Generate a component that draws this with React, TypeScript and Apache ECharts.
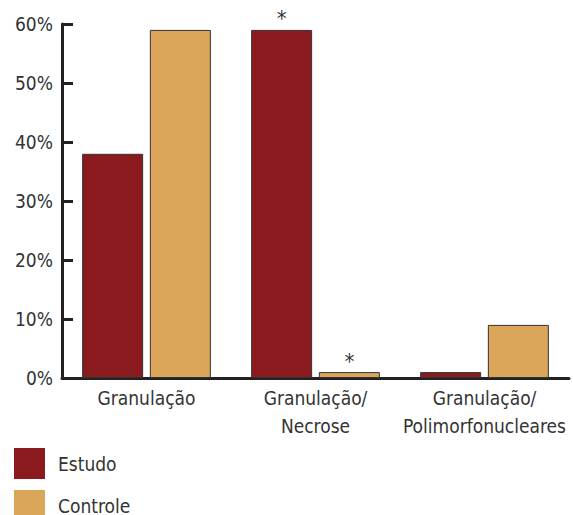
import React, { useEffect, useRef } from "react";
import * as echarts from "echarts";

const categories = ["Granulação", "Granulação/\nNecrose", "Granulação/\nPolimorfonucleares"];
const estudo = [38, 59, 1];
const controle = [59, 1, 9];
const estudoMarks = ["", "*", ""];
const controleMarks = ["", "*", ""];
const yTicks = [0, 10, 20, 30, 40, 50, 60];
const seriesNames = ["Estudo", "Controle"];

const FONT = "'Liberation Sans Narrow', 'DejaVu Sans Condensed', 'Roboto', sans-serif";
const TXT = "#333333";

export default function App() {
  const ref = useRef<HTMLDivElement>(null);
  useEffect(() => {
    document.body.style.margin = "0";
    if (!ref.current) return;
    const chart = echarts.init(ref.current, undefined, { renderer: "svg" });
    const mk = (vals: number[], marks: string[]) =>
      vals.map((v, i) => ({
        value: v,
        label: {
          show: marks[i] !== "",
          position: "top",
          distance: 0,
          formatter: marks[i],
          fontSize: 22,
          color: TXT,
          fontFamily: FONT,
        },
      }));
    const legendBase = {
      orient: "vertical",
      left: 14,
      itemWidth: 31,
      itemHeight: 31,
      icon: "rect",
      padding: 0,
      itemStyle: { borderWidth: 0 },
      textStyle: {
        fontSize: 19,
        lineHeight: 18,
        color: TXT,
        fontFamily: FONT,
        padding: [0, 0, 0, 8],
      },
    };
    chart.setOption({
      animation: false,
      textStyle: { fontFamily: FONT },
      grid: { left: 62, right: 4, top: 24, bottom: 137, containLabel: false },
      legend: [
        { ...legendBase, top: 448, data: [seriesNames[0]] },
        { ...legendBase, top: 490, data: [seriesNames[1]] },
      ],
      xAxis: {
        type: "category",
        data: categories,
        axisLine: { lineStyle: { color: "#222", width: 3 } },
        axisTick: { inside: true, length: 8, lineStyle: { color: "#222", width: 3 } },
        axisLabel: {
          fontSize: 19,
          color: TXT,
          fontFamily: FONT,
          lineHeight: 28,
          margin: 6,
          interval: 0,
        },
      },
      yAxis: {
        type: "value",
        min: yTicks[0],
        max: yTicks[yTicks.length - 1],
        interval: 10,
        splitLine: { show: false },
        axisLine: { show: true, lineStyle: { color: "#222", width: 3 } },
        axisTick: { show: true, inside: true, length: 11, lineStyle: { color: "#222", width: 3 } },
        axisLabel: {
          formatter: "{value}%",
          fontSize: 19,
          color: TXT,
          fontFamily: FONT,
          margin: 9,
        },
      },
      series: [
        {
          name: seriesNames[0],
          type: "bar",
          data: mk(estudo, estudoMarks),
          barWidth: 61,
          barGap: "11%",
          itemStyle: { color: "#8B1A1E", borderColor: "#333", borderWidth: 1 },
        },
        {
          name: seriesNames[1],
          type: "bar",
          data: mk(controle, controleMarks),
          barWidth: 61,
          itemStyle: { color: "#DBA55A", borderColor: "#333", borderWidth: 1 },
        },
      ],
    });
    return () => chart.dispose();
  }, []);
  return <div ref={ref} style={{ width: 573, height: 515 }} />;
}
